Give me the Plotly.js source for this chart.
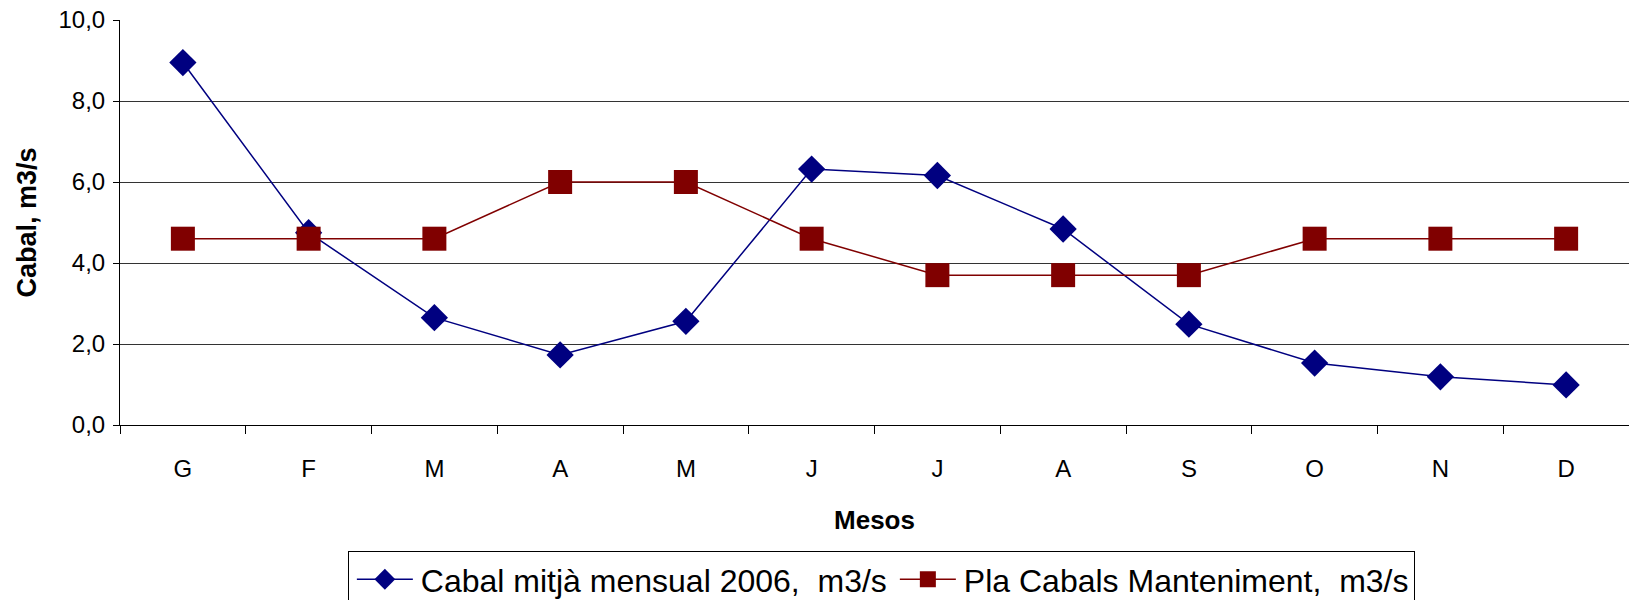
<!DOCTYPE html>
<html>
<head>
<meta charset="utf-8">
<script src="https://cdn.plot.ly/plotly-3.0.1.min.js"></script>
<style>html,body{margin:0;padding:0;background:#fff;}#chart{width:1629px;height:600px;}</style>
</head>
<body>
<div id="chart"></div>
<script>
const months = ['G','F','M','A','M','J','J','A','S','O','N','D'];
const cabal2006 = [8.95, 4.75, 2.65, 1.73, 2.56, 6.32, 6.16, 4.84, 2.49, 1.53, 1.19, 0.99];
const plaCabals = [4.6, 4.6, 4.6, 6.0, 6.0, 4.6, 3.7, 3.7, 3.7, 4.6, 4.6, 4.6];
const yTicks = [0, 2, 4, 6, 8, 10];
const seriesNames = ['Cabal mitjà mensual 2006,\u00A0 m3/s', 'Pla Cabals Manteniment,\u00A0 m3/s'];

const idx = months.map((_, i) => i);
const bounds = idx.map(i => i - 0.5).concat([idx.length - 0.5]);
const FONT = 'Liberation Sans, Arial, sans-serif';

const traces = [
  {
    x: idx, y: cabal2006, name: seriesNames[0], type: 'scatter', mode: 'lines+markers',
    line: {color: '#000080', width: 1.5},
    marker: {symbol: 'diamond', size: 21, color: '#000080'},
    cliponaxis: false
  },
  {
    x: idx, y: plaCabals, name: seriesNames[1], type: 'scatter', mode: 'lines+markers',
    line: {color: '#800000', width: 1.5},
    marker: {symbol: 'square', size: 24, color: '#800000'},
    cliponaxis: false
  }
];

const layout = {
  width: 1629, height: 600,
  margin: {l: 120, r: 0, t: 20, b: 175, autoexpand: false},
  paper_bgcolor: '#fff', plot_bgcolor: '#fff',
  separators: ',.',
  font: {family: FONT, color: '#000'},
  showlegend: true,
  xaxis: {
    range: [-0.5, 11.5], fixedrange: true,
    tickmode: 'array', tickvals: idx, ticktext: months, ticks: '',
    tickfont: {size: 24, color: '#000'},
    ticklabelstandoff: 22,
    showline: true, linecolor: '#000', linewidth: 1,
    showgrid: false, zeroline: false,
    minor: {tickmode: 'array', tickvals: bounds, ticks: 'outside', ticklen: 8, tickcolor: '#000', tickwidth: 1, showgrid: false},
    title: {text: 'Mesos', font: {size: 26, weight: 'bold', color: '#000'}, standoff: 30}
  },
  yaxis: {
    range: [0, 10], fixedrange: true,
    tickmode: 'array', tickvals: yTicks, tickformat: '.1f',
    ticks: 'outside', ticklen: 6, tickcolor: '#000',
    tickfont: {size: 24, color: '#000'},
    ticklabelstandoff: 3,
    showline: true, linecolor: '#000', linewidth: 1,
    showgrid: true, gridcolor: '#333', gridwidth: 1,
    zeroline: false,
    title: {text: 'Cabal, m3/s', font: {size: 27, weight: 'bold', color: '#000'}, standoff: 14}
  },
  legend: {
    orientation: 'h', x: 0.151, xanchor: 'left', y: -0.311, yanchor: 'top',
    bordercolor: '#000', borderwidth: 1, bgcolor: '#fff',
    itemwidth: 62,
    font: {size: 32, color: '#000'}
  }
};

Plotly.newPlot('chart', traces, layout, {displayModeBar: false, staticPlot: true}).then(gd => {
  // lengthen the legend sample lines to match the reference look
  gd.querySelectorAll('.legend .legendlines path').forEach(p => p.setAttribute('d', 'M8,0h56'));
  gd.querySelectorAll('.legend .legendsymbols .scatterpts').forEach(p => p.setAttribute('transform', 'translate(36,0)'));
});
</script>
</body>
</html>
